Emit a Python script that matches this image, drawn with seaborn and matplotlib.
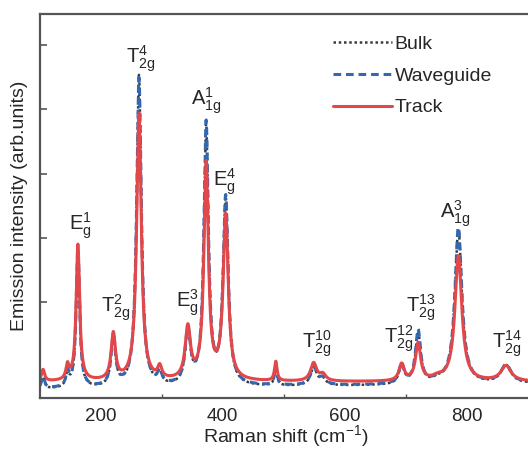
import numpy as np
import pandas as pd
import matplotlib
matplotlib.use("Agg")
import matplotlib.pyplot as plt
import seaborn as sns

# peak parameters (cm^-1, arb. units)
peak_pos = [106, 146, 163, 221, 263, 297, 343, 373, 405, 487, 549, 564, 693, 720, 752, 786, 864]
peak_hwhm = [3, 3, 3.4, 4.3, 4.6, 4, 5.2, 4.4, 5.0, 2.5, 6, 6, 5, 5, 10, 6.8, 10]
track_amp = [0.18, 0.22, 2.12, 0.72, 4.15, 0.18, 0.80, 3.35, 2.55, 0.30, 0.28, 0.10, 0.26, 0.58, 0.05, 1.95, 0.24]
wave_amp = [0.18, 0.22, 2.15, 0.78, 4.80, 0.18, 0.84, 4.05, 2.90, 0.30, 0.28, 0.10, 0.30, 0.82, 0.05, 2.42, 0.28]
bulk_amp = [0.18, 0.22, 2.15, 0.78, 4.85, 0.18, 0.84, 4.00, 2.88, 0.30, 0.28, 0.10, 0.30, 0.80, 0.05, 2.40, 0.28]
# baseline level at 100 and 905 cm^-1
base_ends = {"Bulk": (-0.36, -0.27), "Waveguide": (-0.35, -0.26), "Track": (-0.24, -0.24)}

labels = [r"$\mathrm{E}_{g}^{1}$", r"$\mathrm{T}_{2g}^{2}$", r"$\mathrm{T}_{2g}^{4}$",
          r"$\mathrm{E}_{g}^{3}$", r"$\mathrm{A}_{1g}^{1}$", r"$\mathrm{E}_{g}^{4}$",
          r"$\mathrm{T}_{2g}^{10}$", r"$\mathrm{T}_{2g}^{12}$", r"$\mathrm{T}_{2g}^{13}$",
          r"$\mathrm{A}_{1g}^{3}$", r"$\mathrm{T}_{2g}^{14}$"]
label_x = [167, 225, 266, 343, 373, 403, 554, 689, 725, 781, 865]
label_y = [1.95, 0.68, 4.55, 0.76, 3.90, 2.63, 0.12, 0.19, 0.68, 2.14, 0.12]

shift = np.linspace(100, 905, 2400)


def spectrum(amps, ends):
    y = np.interp(shift, [100, 905], ends)
    for c, w, a in zip(peak_pos, peak_hwhm, amps):
        y = y + a / (1 + ((shift - c) / w) ** 2)
    return y


df = pd.concat([
    pd.DataFrame({"shift": shift, "val": spectrum(bulk_amp, base_ends["Bulk"]), "sample": "Bulk"}),
    pd.DataFrame({"shift": shift, "val": spectrum(wave_amp, base_ends["Waveguide"]), "sample": "Waveguide"}),
    pd.DataFrame({"shift": shift, "val": spectrum(track_amp, base_ends["Track"]), "sample": "Track"}),
])

sns.set_style("white")
plt.rcParams["font.family"] = ["Liberation Sans", "DejaVu Sans"]
plt.rcParams["mathtext.fontset"] = "custom"
plt.rcParams["mathtext.rm"] = "Liberation Sans"
plt.rcParams["mathtext.it"] = "Liberation Sans"

fig = plt.figure(figsize=(5.28, 4.5), dpi=100)
ax = fig.add_axes([0.0758, 0.1156, 0.93, 0.8533])

styles = {"Bulk": ("#3a3a3a", (0, (1, 1.1)), 1.8),
          "Waveguide": ("#3566b0", (0, (2.5, 1.6)), 2.2),
          "Track": ("#e2474a", "-", 2.2)}
for name in ["Bulk", "Waveguide", "Track"]:
    col, ls, lw = styles[name]
    sns.lineplot(data=df[df["sample"] == name], x="shift", y="val", ax=ax,
                 color=col, linestyle=ls, linewidth=lw, label=name)

for t, x, y in zip(labels, label_x, label_y):
    ax.text(x, y, t, ha="center", va="bottom", fontsize=14.5)

ax.set_xlim(101, 905)
ax.set_ylim(-0.49, 5.48)
ax.set_xticks([200, 400, 600, 800])
ax.set_xticks([300, 500, 700], minor=True)
ax.set_yticks([1, 2, 3, 4, 5])
ax.set_yticklabels([])
ax.tick_params(axis="both", which="both", direction="in", color="#555555")
ax.tick_params(axis="x", which="major", length=5, width=1.2, labelsize=13.5, pad=7)
ax.tick_params(axis="x", which="minor", length=3, width=1.0, bottom=True)
ax.tick_params(axis="y", length=5, width=1.2, left=True)
for s in ["left", "top", "bottom"]:
    ax.spines[s].set_color("#555555")
    ax.spines[s].set_linewidth(1.6)
ax.spines["right"].set_visible(False)

ax.set_xlabel("Raman shift (cm$^{-1}$)", fontsize=14, labelpad=-1)
ax.set_ylabel("Emission intensity (arb.units)", fontsize=14, labelpad=5)

leg = ax.legend(loc="upper left", bbox_to_anchor=(0.597, 0.945), frameon=False,
                fontsize=14, handlelength=3.0, handletextpad=0.15, labelspacing=0.73,
                borderpad=0, borderaxespad=0)

fig.savefig("out.png", dpi=100)
